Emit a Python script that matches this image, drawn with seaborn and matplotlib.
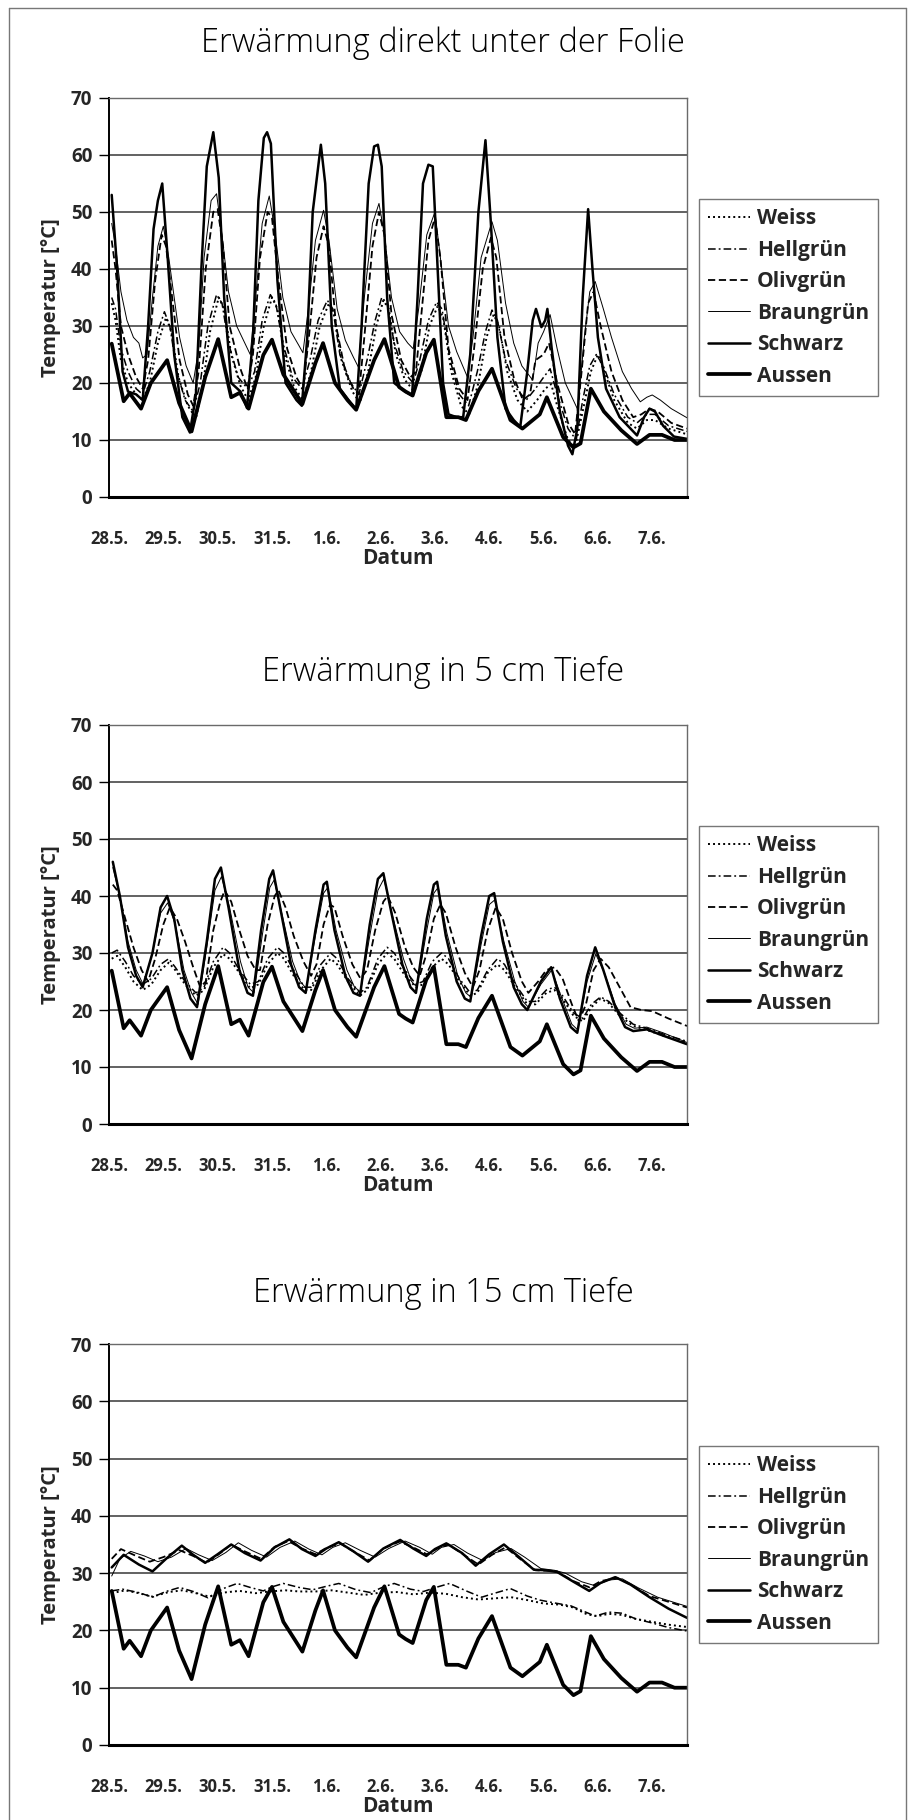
import matplotlib
matplotlib.use("Agg")
import matplotlib.pyplot as plt
from matplotlib.lines import Line2D
import seaborn as sns

sns.set_theme(style="white")
plt.rcParams["font.family"] = ["Open Sans", "DejaVu Sans"]

# ---------------- data (days since 28.5., temperature °C) ----------------
DAY_LABELS = ["28.5.", "29.5.", "30.5.", "31.5.", "1.6.", "2.6.", "3.6.", "4.6.", "5.6.", "6.6.", "7.6."]
Y_TICKS = [0, 10, 20, 30, 40, 50, 60, 70]
SERIES = ["Weiss", "Hellgrün", "Olivgrün", "Braungrün", "Schwarz", "Aussen"]
TITLES = ["Erwärmung direkt unter der Folie", "Erwärmung in 5 cm Tiefe", "Erwärmung in 15 cm Tiefe"]

AUSSEN = [(0.05,26.9),(0.27,16.8),(0.38,18.2),(0.59,15.5),(0.77,20),(1.07,24),(1.29,16.5),(1.52,11.5),(1.77,21),(2.01,27.7),
          (2.25,17.5),(2.41,18.3),(2.57,15.5),(2.84,24.9),(3.0,27.6),(3.21,21.5),(3.56,16.3),(3.8,23.5),(3.94,27),(4.16,20),
          (4.39,17),(4.55,15.3),(4.88,24),(5.07,27.7),(5.34,19.3),(5.46,18.5),(5.59,17.8),(5.84,25.3),(5.98,27.6),(6.21,14),
          (6.43,14),(6.57,13.5),(6.8,18.6),(7.05,22.5),(7.39,13.5),(7.61,12),(7.93,14.5),(8.06,17.5),(8.36,10.5),(8.55,8.7),
          (8.68,9.4),(8.87,19),(9.11,15),(9.43,11.7),(9.72,9.3),(9.95,10.9),(10.18,10.9),(10.41,10),(10.64,10)]

# --- Chart 1: directly under the film ---
C1_SCHWARZ = [(0.05,53),(0.15,40),(0.25,22),(0.35,18.5),(0.5,18),(0.62,17),(0.72,30),(0.82,47),(0.9,52),(0.98,55),(1.08,42),
              (1.2,25),(1.35,14),(1.49,11.3),(1.6,18),(1.7,40),(1.8,58),(1.92,64),(2.02,56),(2.12,35),(2.25,20),(2.42,18.5),
              (2.54,15.6),(2.65,28),(2.75,52),(2.85,63),(2.91,64),(2.98,62),(3.1,38),(3.25,20),(3.45,17),(3.55,16),(3.65,28),
              (3.75,50),(3.9,61.8),(3.98,55),(4.1,30),(4.25,19),(4.45,16.5),(4.55,15.3),(4.65,30),(4.78,55),(4.88,61.5),
              (4.95,61.8),(5.02,58),(5.12,35),(5.25,20),(5.45,18.5),(5.58,17.8),(5.68,35),(5.78,55),(5.88,58.3),(5.96,58),
              (6.05,40),(6.15,20),(6.25,14.5),(6.4,14),(6.52,14),(6.65,25),(6.8,50),(6.93,62.6),(7.03,48),(7.15,28),(7.3,15.5),
              (7.45,13.5),(7.57,12.3),(7.7,22),(7.8,31),(7.86,33),(7.96,29.8),(8.03,31),(8.07,33),(8.15,26),(8.3,15),(8.45,9),
              (8.53,7.5),(8.62,12),(8.72,35),(8.82,50.5),(8.9,40),(9.0,28),(9.15,19),(9.4,14),(9.6,12),(9.72,10.8),(9.85,14),
              (9.95,15.5),(10.05,15),(10.2,12.5),(10.4,10.6),(10.64,10.2)]
C1_BRAUNGRUEN = [(0.05,48),(0.12,44),(0.22,36),(0.33,31),(0.45,28),(0.55,27),(0.62,24.4),(0.7,25),(0.8,35),(0.9,44),(1.0,47.5),
                 (1.1,42),(1.2,35),(1.3,28),(1.42,23),(1.55,20),(1.65,26),(1.75,42),(1.88,52),(1.98,53.2),(2.08,46),(2.2,36),
                 (2.35,30),(2.5,27),(2.6,25),(2.7,35),(2.82,48),(2.95,52.8),(3.05,47),(3.2,35),(3.35,29),(3.5,26.5),(3.57,25.3),
                 (3.67,33),(3.8,45),(3.95,50.3),(4.05,45),(4.2,33),(4.35,27.5),(4.5,24.5),(4.59,22.8),(4.7,35),(4.85,48),
                 (4.97,51.5),(5.07,46),(5.2,35),(5.35,29),(5.5,27),(5.6,26),(5.7,33),(5.85,46),(6.0,50),(6.1,42),(6.25,30),
                 (6.4,25.5),(6.6,21),(6.7,28),(6.85,42),(7.05,48.3),(7.15,45),(7.3,34),(7.45,27),(7.6,23),(7.8,20.5),(7.9,27),
                 (8.0,29),(8.12,32),(8.25,26),(8.4,20),(8.63,15.3),(8.75,28),(8.85,36),(8.95,37.8),(9.1,33),(9.25,28),(9.45,22),
                 (9.62,19),(9.78,16.7),(9.9,17.5),(10.0,17.9),(10.15,17),(10.35,15.5),(10.64,13.9)]
C1_OLIVGRUEN = [(0.05,45),(0.12,40),(0.22,30),(0.35,25),(0.5,21),(0.62,19),(0.72,24),(0.85,38),(0.97,46),(1.05,44),(1.15,36),
                (1.3,24),(1.45,18),(1.55,16),(1.65,22),(1.78,40),(1.92,50),(2.0,50.5),(2.1,44),(2.22,30),(2.4,23),(2.55,19),
                (2.65,25),(2.78,42),(2.92,50),(3.0,49),(3.12,38),(3.28,26),(3.45,21),(3.57,19),(3.68,28),(3.82,42),(3.95,47.5),
                (4.05,44),(4.18,30),(4.35,22),(4.5,19),(4.6,18),(4.7,28),(4.85,44),(4.97,50),(5.07,46),(5.2,32),(5.38,24),
                (5.55,21),(5.65,22),(5.75,32),(5.88,45),(6.0,49),(6.1,42),(6.25,26),(6.45,19),(6.6,17),(6.72,26),(6.88,40),
                (7.03,45.5),(7.13,42),(7.28,28),(7.45,21),(7.62,17),(7.75,18),(7.85,24),(8.0,25),(8.1,27),(8.25,20),(8.45,13),
                (8.58,11),(8.7,22),(8.82,34),(8.92,36),(9.05,30),(9.25,22),(9.45,17),(9.65,14),(9.8,14.5),(9.95,15.5),(10.1,15),
                (10.35,13),(10.64,12)]
C1_HELLGRUEN = [(0.05,35),(0.12,33),(0.22,26),(0.35,22),(0.5,19),(0.62,18),(0.75,22),(0.9,29),(1.02,32.5),(1.12,30),(1.25,22),
                (1.4,17),(1.55,15),(1.68,20),(1.82,30),(1.98,35.5),(2.08,34),(2.2,27),(2.38,21),(2.55,19),(2.68,22),(2.82,31),
                (2.97,35.5),(3.07,34),(3.2,27),(3.38,21),(3.55,19),(3.7,24),(3.85,31),(4.02,34.5),(4.12,33),(4.25,25),(4.45,20),
                (4.6,18),(4.75,24),(4.9,31),(5.02,35),(5.12,34),(5.25,27),(5.42,22),(5.6,20),(5.72,24),(5.88,31),(6.03,34.2),
                (6.13,33),(6.28,24),(6.45,18),(6.62,16),(6.78,22),(6.93,29),(7.05,32.8),(7.15,31),(7.3,24),(7.5,19),(7.68,17),
                (7.85,19),(8.0,21),(8.12,22.5),(8.25,18),(8.45,12),(8.6,10),(8.72,17),(8.85,23),(8.97,25),(9.1,23),(9.3,18),
                (9.55,14),(9.72,13),(9.9,14.5),(10.05,14.5),(10.3,12.5),(10.64,11.5)]
C1_WEISS = [(0.05,34),(0.12,31),(0.22,24),(0.35,20),(0.5,18),(0.62,17),(0.75,20),(0.9,27),(1.05,31.5),(1.15,29),(1.28,21),
            (1.45,16),(1.6,13.8),(1.72,19),(1.86,29),(2.02,35),(2.12,33),(2.25,25),(2.42,19.5),(2.56,17),(2.7,21),(2.85,30),
            (3.0,35),(3.1,33),(3.23,25),(3.4,19.5),(3.57,17),(3.72,22),(3.88,30),(4.05,34),(4.15,32),(4.28,24),(4.48,18.5),
            (4.62,16.5),(4.77,22),(4.92,30),(5.05,34.5),(5.15,33),(5.28,25),(5.45,20.5),(5.62,18.5),(5.75,22),(5.9,30),
            (6.05,33.5),(6.15,31.5),(6.3,22),(6.48,16),(6.63,14.5),(6.8,20),(6.95,28),(7.08,32),(7.18,30),(7.33,22),(7.52,17),
            (7.7,15),(7.88,17),(8.03,19),(8.14,19.8),(8.28,15),(8.45,10),(8.58,8.8),(8.72,15),(8.87,22),(9.0,25),(9.12,22),
            (9.3,17),(9.55,13),(9.72,12),(9.9,13.5),(10.05,13.5),(10.3,12),(10.64,11)]

# --- Chart 2: 5 cm depth ---
C2_SCHWARZ = [(0.07,46),(0.2,40),(0.35,31),(0.5,26),(0.62,24),(0.8,30),(0.95,38),(1.07,40),(1.2,36),(1.35,27),(1.5,22),
              (1.62,20.5),(1.8,32),(1.95,43),(2.06,45),(2.2,38),(2.4,27),(2.55,23),(2.65,22.5),(2.8,34),(2.95,43),(3.02,44.5),
              (3.15,38),(3.35,28),(3.5,24),(3.62,23),(3.8,34),(3.95,42),(4.01,42.5),(4.15,34),(4.35,26),(4.5,23),(4.62,22.5),
              (4.8,35),(4.95,43),(5.05,44),(5.2,37),(5.4,28),(5.55,24),(5.65,23),(5.85,36),(5.98,42),(6.04,42.5),(6.2,33),
              (6.4,25),(6.55,22),(6.65,21.5),(6.85,33),(7.0,40),(7.09,40.5),(7.25,32),(7.45,24),(7.6,21),(7.7,20),(7.95,25),
              (8.14,27.5),(8.3,22),(8.5,17),(8.62,16),(8.8,26),(8.95,31),(9.1,27),(9.3,21),(9.5,17),(9.65,16.3),(9.9,16.6),
              (10.2,15.5),(10.64,14)]
C2_BRAUNGRUEN = [(0.07,45),(0.2,40),(0.35,32),(0.5,27),(0.63,24.5),(0.8,30),(0.95,37),(1.08,38.8),(1.22,35),(1.38,27),(1.52,23),
                 (1.64,21),(1.8,31),(1.95,41),(2.07,43.4),(2.22,38),(2.42,28.5),(2.56,24),(2.67,23),(2.82,33),(2.96,41.5),
                 (3.04,42.8),(3.18,37),(3.38,28.5),(3.52,25),(3.63,23.8),(3.8,33),(3.95,40.5),(4.03,41.5),(4.18,34),(4.38,27),
                 (4.52,24),(4.63,23.2),(4.8,33),(4.95,41),(5.06,43),(5.22,36.5),(5.42,29),(5.57,25),(5.67,24),(5.85,34),
                 (5.98,40.5),(6.06,41.5),(6.22,33.5),(6.42,26),(6.57,23),(6.67,22.2),(6.85,31.5),(7.0,38.5),(7.1,39.3),(7.27,32),
                 (7.47,25),(7.62,21.5),(7.72,20.5),(7.95,24.5),(8.15,27),(8.32,22.5),(8.52,17.5),(8.63,16.5),(8.8,25),(8.96,29.8),
                 (9.12,26.5),(9.32,21),(9.52,17.5),(9.67,16.8),(9.9,17),(10.2,16),(10.64,14.3)]
C2_OLIVGRUEN = [(0.07,42),(0.15,41),(0.3,36),(0.45,31),(0.6,27),(0.72,25),(0.85,29),(1.0,35),(1.12,38),(1.25,36),(1.4,32),
                (1.55,27.5),(1.68,24),(1.78,25),(1.92,34),(2.05,39),(2.13,41),(2.25,39),(2.4,34),(2.55,29.5),(2.7,27),(2.78,27),
                (2.92,35),(3.05,40),(3.12,41),(3.25,38),(3.4,33),(3.58,28.5),(3.72,26),(3.82,28),(3.95,35),(4.07,38.5),(4.15,38),
                (4.3,33),(4.48,28),(4.63,25.5),(4.75,27),(4.9,34),(5.05,39),(5.13,40),(5.27,37),(5.45,31),(5.6,27.5),(5.72,26),
                (5.85,30),(5.98,36),(6.1,38.5),(6.2,37),(6.38,31),(6.55,26.5),(6.7,24),(6.82,27),(6.97,34),(7.12,38),(7.25,36),
                (7.42,30),(7.6,25),(7.72,23),(7.9,25),(8.05,27),(8.2,27.5),(8.35,25.5),(8.52,21),(8.65,18),(8.78,21),(8.92,27),
                (9.05,29),(9.2,27.5),(9.4,24),(9.6,20.5),(9.8,20),(10.0,19.8),(10.3,18.5),(10.64,17.2)]
C2_HELLGRUEN = [(0.05,30),(0.15,30.5),(0.3,28.5),(0.45,26),(0.62,24.5),(0.78,25.5),(0.95,28),(1.1,29),(1.22,27.5),(1.4,25),
                (1.6,23),(1.75,24),(1.92,28.5),(2.1,31),(2.22,30),(2.4,27),(2.6,24.5),(2.75,25),(2.92,29),(3.1,31),(3.22,30),
                (3.4,27),(3.6,24),(3.72,24),(3.9,28),(4.08,30),(4.2,29),(4.4,25.5),(4.62,23),(4.75,24),(4.95,29),(5.12,31),
                (5.25,30),(5.45,27),(5.65,24.5),(5.78,25),(5.95,28.5),(6.12,30),(6.25,29),(6.45,25.5),(6.65,23),(6.78,23.5),
                (6.97,27),(7.15,29),(7.28,28),(7.48,24.5),(7.7,21.5),(7.85,21.5),(8.05,23.5),(8.2,24),(8.35,22.5),(8.55,19.5),
                (8.72,18.5),(8.88,21),(9.05,22.3),(9.2,21.5),(9.4,19.5),(9.65,17.5),(9.9,16.8),(10.2,15.8),(10.64,14.5)]
C2_WEISS = [(0.05,29),(0.15,29.5),(0.3,27.5),(0.45,25),(0.62,23.5),(0.78,24.5),(0.95,27),(1.1,28.3),(1.22,27),(1.4,24.5),
            (1.6,22.5),(1.75,23.5),(1.92,27.5),(2.1,29.8),(2.22,29),(2.4,26.5),(2.6,23.8),(2.75,24.5),(2.92,28),(3.1,30),
            (3.22,29),(3.4,26),(3.6,23.5),(3.72,23.5),(3.9,27),(4.08,29),(4.2,28),(4.4,25),(4.62,22.5),(4.75,23.5),(4.95,28),
            (5.12,30),(5.25,29),(5.45,26),(5.65,24),(5.78,24.5),(5.95,27.5),(6.12,29),(6.25,28),(6.45,25),(6.65,22.5),
            (6.78,23),(6.97,26.5),(7.15,28),(7.28,27),(7.48,24),(7.7,21),(7.85,21),(8.05,23),(8.2,23.5),(8.35,22),(8.55,19),
            (8.72,18),(8.88,20.5),(9.05,22),(9.2,21.2),(9.4,19),(9.65,17.2),(9.9,16.5),(10.2,15.5),(10.64,14.2)]

# --- Chart 3: 15 cm depth ---
C3_SCHWARZ = [(0.05,31),(0.27,33.2),(0.55,31.5),(0.8,30.3),(1.05,32.5),(1.34,34.8),(1.55,33.2),(1.77,31.8),(2.0,33.3),(2.25,35),
              (2.5,33.5),(2.79,32.2),(3.05,34.5),(3.32,35.9),(3.55,34.2),(3.8,33),(4.0,34.3),(4.23,35.4),(4.5,33.8),(4.77,32),
              (5.05,34.3),(5.36,35.8),(5.6,34.3),(5.84,33),(6.0,34.2),(6.21,35.2),(6.5,33.5),(6.75,31.3),(7.0,33.3),(7.27,35),
              (7.55,32.8),(7.82,30.6),(8.05,30.5),(8.25,30.2),(8.55,28.5),(8.84,26.9),(9.05,28.3),(9.32,29.3),(9.6,28),
              (9.95,25.8),(10.3,23.8),(10.64,22.2)]
C3_BRAUNGRUEN = [(0.05,29.5),(0.2,32.5),(0.4,33.8),(0.65,33),(0.9,32),(1.15,32.8),(1.42,34.3),(1.65,33.2),(1.9,32.2),(2.15,33.6),
                 (2.38,35.3),(2.62,34),(2.9,32.8),(3.15,34.5),(3.42,35.6),(3.68,34.2),(3.92,33.2),(4.12,34.5),(4.35,35.3),
                 (4.62,34),(4.9,32.8),(5.15,34.3),(5.45,35.6),(5.72,34.5),(5.95,33.3),(6.12,34.5),(6.35,35),(6.6,33.5),
                 (6.88,32.2),(7.12,33.6),(7.4,34.3),(7.65,32.8),(7.95,30.8),(8.2,30.5),(8.4,30),(8.7,28.5),(8.95,27.8),
                 (9.2,28.8),(9.45,29),(9.75,27.4),(10.1,25.8),(10.4,24.9),(10.64,24.2)]
C3_OLIVGRUEN = [(0.05,32.5),(0.22,34.2),(0.5,33),(0.75,32),(1.0,32.8),(1.3,34),(1.55,33),(1.8,31.8),(2.05,33.5),(2.25,35),
                (2.5,33.8),(2.8,32.5),(3.05,34.6),(3.3,35.6),(3.55,34.3),(3.8,33.3),(4.0,34.4),(4.25,35.2),(4.5,33.8),(4.8,32.2),
                (5.05,34.3),(5.35,35.5),(5.6,34.5),(5.85,33.3),(6.05,34.3),(6.25,35),(6.5,33.4),(6.8,31.5),(7.05,33.2),(7.3,34.5),
                (7.55,32.6),(7.85,30.5),(8.1,30.4),(8.25,30.3),(8.55,28.6),(8.85,27.5),(9.05,28.6),(9.35,29.2),(9.6,28),
                (9.95,26),(10.3,25),(10.64,24)]
C3_HELLGRUEN = [(0.05,26.9),(0.25,27.2),(0.55,26.6),(0.8,25.8),(1.05,26.8),(1.3,27.5),(1.55,26.8),(1.82,25.7),(2.1,27.3),
                (2.36,28.2),(2.6,27.5),(2.84,26.9),(3.0,27.6),(3.21,28.2),(3.5,27.5),(3.75,27.1),(4.0,27.7),(4.23,28.2),
                (4.55,27.1),(4.82,26.6),(5.05,27.6),(5.25,28.2),(5.55,27.2),(5.79,26.8),(6.05,27.6),(6.27,28.2),(6.6,26.8),
                (6.86,25.8),(7.1,26.5),(7.39,27.3),(7.7,26),(7.93,25.3),(8.2,24.8),(8.5,24.3),(8.75,23.3),(8.95,22.5),
                (9.2,23.2),(9.45,23),(9.7,22),(10.0,21.3),(10.3,20.5),(10.64,19.9)]
C3_WEISS = [(0.05,26.5),(0.3,27),(0.55,26.5),(0.8,25.9),(1.1,26.7),(1.35,27),(1.6,26.5),(1.85,25.9),(2.1,26.6),(2.4,26.9),
            (2.7,26.5),(2.95,26.8),(3.25,27),(3.5,26.8),(3.8,26.8),(4.1,27),(4.4,26.6),(4.7,26.2),(5.0,26.6),(5.3,26.7),
            (5.6,26.3),(5.9,26.6),(6.2,26.4),(6.5,25.8),(6.8,25.4),(7.1,25.6),(7.4,25.8),(7.7,25.3),(8.0,24.7),(8.3,24.5),
            (8.55,24),(8.8,22.8),(9.0,22.5),(9.2,22.9),(9.45,22.7),(9.7,22),(10.0,21.5),(10.3,21),(10.64,20.6)]

CHARTS = [
    {"Weiss": C1_WEISS, "Hellgrün": C1_HELLGRUEN, "Olivgrün": C1_OLIVGRUEN,
     "Braungrün": C1_BRAUNGRUEN, "Schwarz": C1_SCHWARZ, "Aussen": AUSSEN},
    {"Weiss": C2_WEISS, "Hellgrün": C2_HELLGRUEN, "Olivgrün": C2_OLIVGRUEN,
     "Braungrün": C2_BRAUNGRUEN, "Schwarz": C2_SCHWARZ, "Aussen": AUSSEN},
    {"Weiss": C3_WEISS, "Hellgrün": C3_HELLGRUEN, "Olivgrün": C3_OLIVGRUEN,
     "Braungrün": C3_BRAUNGRUEN, "Schwarz": C3_SCHWARZ, "Aussen": AUSSEN},
]

# ---------------- styling ----------------
STYLE = {
    "Weiss":     dict(linestyle=(0, (1.0, 1.6)), linewidth=1.4),
    "Hellgrün":  dict(linestyle=(0, (5, 2, 1.2, 2)), linewidth=1.1),
    "Olivgrün":  dict(linestyle=(0, (4, 2)), linewidth=1.3),
    "Braungrün": dict(linestyle="-", linewidth=0.7),
    "Schwarz":   dict(linestyle="-", linewidth=1.8),
    "Aussen":    dict(linestyle="-", linewidth=2.7),
}

W, H = 911, 1820
fig = plt.figure(figsize=(W / 100, H / 100), dpi=100)
AX_LEFT, AX_RIGHT = 109, 687
AX_TOPS = [98, 725, 1344]
AX_BOTS = [497, 1124, 1745]
TITLE_Y = [43, 672, 1293]

for i in range(3):
    ax = fig.add_axes([AX_LEFT / W, 1 - AX_BOTS[i] / H, (AX_RIGHT - AX_LEFT) / W, (AX_BOTS[i] - AX_TOPS[i]) / H])
    data = CHARTS[i]
    for name in SERIES:
        pts = data[name]
        xs = [p[0] for p in pts]
        ys = [p[1] for p in pts]
        sns.lineplot(x=xs, y=ys, ax=ax, color="black", label=name, sort=False,
                     estimator=None, solid_joinstyle="round", **STYLE[name])
    ax.set_xlim(0, 10.64)
    ax.set_ylim(0, 70)
    ax.set_yticks(Y_TICKS)
    ax.set_yticklabels([str(v) for v in Y_TICKS], fontsize=13.5, fontweight="bold")
    ax.set_xticks(range(len(DAY_LABELS)))
    ax.set_xticklabels(DAY_LABELS, fontsize=12, fontweight="bold")
    ax.tick_params(axis="y", length=7, width=1.0, color="black", direction="out", pad=5, left=True)
    ax.tick_params(axis="x", length=0, pad=24)
    ax.yaxis.grid(True, color="#555555", linewidth=1.3)
    ax.xaxis.grid(False)
    ax.set_axisbelow(True)
    for s in ["top", "right"]:
        ax.spines[s].set_color("#6a6a6a")
        ax.spines[s].set_linewidth(1.0)
    ax.spines["left"].set_color("black")
    ax.spines["left"].set_linewidth(1.4)
    ax.spines["bottom"].set_color("black")
    ax.spines["bottom"].set_linewidth(2.2)
    ax.set_ylabel("Temperatur [°C]", fontsize=14.5, fontweight="bold")
    ax.yaxis.set_label_coords(-0.083, 0.5)
    ax.set_xlabel("Datum", fontsize=15, fontweight="bold")
    ax.xaxis.set_label_coords(0.5, -0.128)
    leg = ax.legend(loc="center left", bbox_to_anchor=(1.02, 0.5), frameon=True, fancybox=False,
                    fontsize=15, handlelength=2.0, handletextpad=0.35, labelspacing=0.5,
                    borderpad=0.45, borderaxespad=0.0)
    leg.get_frame().set_edgecolor("#555555")
    leg.get_frame().set_linewidth(1.0)
    for t in leg.get_texts():
        t.set_fontweight("bold")
    fig.text(443 / W, 1 - TITLE_Y[i] / H, TITLES[i], ha="center", va="center",
             fontsize=23.5, fontweight="light", color="black")

# outer frame
fx0, fx1, fy1 = 9 / W, 906 / W, 1 - 8 / H
for xs, ys in [([fx0, fx0], [0, fy1]), ([fx0, fx1], [fy1, fy1]), ([fx1, fx1], [fy1, 0])]:
    fig.add_artist(Line2D(xs, ys, transform=fig.transFigure, color="#777777", linewidth=1.0))

fig.savefig("out.png", dpi=100, facecolor="white")
